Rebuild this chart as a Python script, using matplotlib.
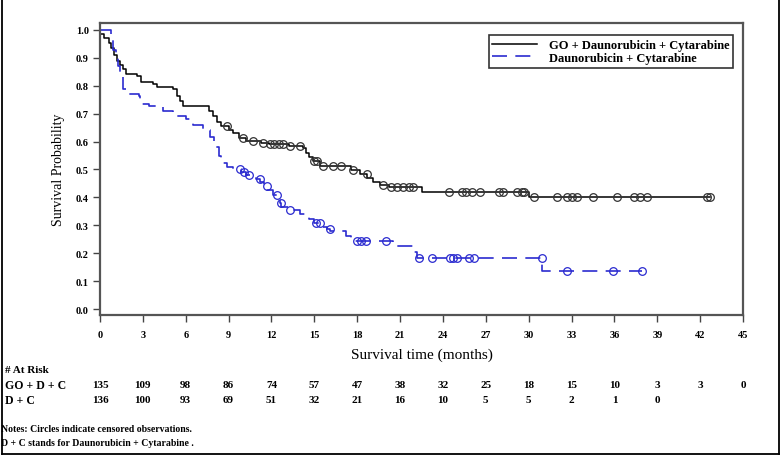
import matplotlib
matplotlib.use("Agg")
import matplotlib.pyplot as plt
from matplotlib.lines import Line2D
import numpy as np

plt.rcParams['font.family'] = ['Liberation Serif', 'DejaVu Serif']
plt.rcParams['font.weight'] = 'bold'

# GO + Daunorubicin + Cytarabine: event times (months) and survival after each drop
go_start = 0.985
go_times = [0.3, 0.6, 0.8, 1.0, 1.2, 1.4, 1.6, 1.8, 2.6, 2.9, 3.7, 4.0, 5.1, 5.4,
            5.6, 5.8, 7.6, 7.9, 8.2, 8.5, 9.0, 9.3, 9.7, 10.2, 11.3, 11.8, 13.2,
            14.2, 14.4, 14.6, 14.9, 15.4, 17.6, 18.2, 18.7, 19.1, 19.6, 20.2,
            22.5, 30.0]
go_surv = [0.97, 0.955, 0.935, 0.91, 0.89, 0.875, 0.86, 0.842, 0.835, 0.815,
           0.808, 0.795, 0.788, 0.765, 0.745, 0.727, 0.71, 0.69, 0.672, 0.655,
           0.643, 0.632, 0.612, 0.603, 0.596, 0.59, 0.584, 0.578, 0.56, 0.545,
           0.53, 0.513, 0.497, 0.484, 0.468, 0.455, 0.443, 0.437, 0.42, 0.40]
go_censor = [8.9, 10.0, 10.7, 11.4, 11.9, 12.2, 12.5, 12.8, 13.3, 14.0, 15.0,
             15.2, 15.6, 16.3, 16.9, 17.7, 18.7, 19.8, 20.4, 20.8, 21.2, 21.6,
             21.9, 24.4, 25.3, 25.6, 26.0, 26.6, 27.9, 28.2, 29.2, 29.5, 29.7,
             30.4, 32.0, 32.7, 33.0, 33.4, 34.5, 36.2, 37.4, 37.8, 38.3, 42.5, 42.7]
go_end = 42.7

# Daunorubicin + Cytarabine
dc_start = 1.0
dc_times = [0.75, 0.9, 1.1, 1.25, 1.4, 1.6, 1.9, 2.7, 2.8, 3.4, 4.4, 5.1, 6.0,
            6.5, 7.2, 7.7, 8.0, 8.3, 8.5, 8.9, 9.3, 9.9, 10.2, 10.5, 10.9, 11.2,
            11.5, 11.7, 12.1, 12.4, 12.6, 12.7, 13.2, 14.0, 14.6, 15.0, 15.5,
            15.9, 16.1, 17.2, 17.6, 20.5, 21.9, 22.2, 30.9]
dc_surv = [0.965, 0.93, 0.9, 0.87, 0.835, 0.79, 0.77, 0.765, 0.735, 0.728, 0.71,
           0.69, 0.68, 0.66, 0.64, 0.615, 0.58, 0.55, 0.525, 0.508, 0.5, 0.49,
           0.482, 0.474, 0.465, 0.455, 0.44, 0.425, 0.41, 0.397, 0.38, 0.365,
           0.356, 0.34, 0.322, 0.31, 0.295, 0.285, 0.278, 0.263, 0.245, 0.227,
           0.204, 0.183, 0.137]
dc_censor = [9.8, 10.1, 10.4, 11.2, 11.7, 12.4, 12.7, 13.3, 15.1, 15.4, 16.1,
             18.0, 18.3, 18.6, 20.0, 22.3, 23.2, 24.5, 24.7, 25.0, 25.8, 26.2,
             30.9, 32.7, 35.9, 37.9]
dc_end = 37.9

risk_times = list(range(0, 46, 3))
go_risk = [135, 109, 98, 86, 74, 57, 47, 38, 32, 25, 18, 15, 10, 3, 3, 0]
dc_risk = [136, 100, 93, 69, 51, 32, 21, 16, 10, 5, 5, 2, 1, 0]

blue = '#2b2bd0'

fig = plt.figure(figsize=(7.83, 4.6), dpi=100)
ax = fig.add_axes([100/783, 1 - 316/460, 643/783, 292/460])


def km(start, times, surv, end):
    x = np.r_[0, times, end]
    y = np.r_[start, surv, surv[-1]]
    return x, y


def censor_y(start, times, surv, ct):
    vals = np.r_[start, surv]
    idx = np.searchsorted(times, ct, side='left')
    return vals[idx]


x, y = km(go_start, go_times, go_surv, go_end)
ax.step(x, y, where='post', color='black', lw=1.1,
        label='GO + Daunorubicin + Cytarabine')
ax.plot(go_censor, censor_y(go_start, go_times, go_surv, go_censor), 'o',
        mfc='none', mec='#333333', ms=5.5, mew=0.9)

x, y = km(dc_start, dc_times, dc_surv, dc_end)
ax.step(x, y, where='post', color=blue, lw=1.2, dashes=(9, 5),
        label='Daunorubicin + Cytarabine')
ax.plot(dc_censor, censor_y(dc_start, dc_times, dc_surv, dc_censor), 'o',
        mfc='none', mec=blue, ms=5.5, mew=0.9)

ax.set_xlim(0, 45)
ax.set_ylim(-6/279, 1 + 7/279)
ax.set_xticks(risk_times)
ax.set_xticklabels([str(t) for t in risk_times], fontsize=7.5)
ax.set_yticks(np.arange(0, 1.01, 0.1))
ax.set_yticklabels([f"{v:.1f}" for v in np.arange(0, 1.01, 0.1)], fontsize=7.5)
ax.tick_params(direction='out', length=5, width=1, color='#444444', pad=3)
ax.tick_params(axis='x', pad=6)
for sp in ax.spines.values():
    sp.set_color('#555555')
    sp.set_linewidth(1.6)

ax.set_ylabel('Survival Probability', fontsize=10, labelpad=8)
ax.set_xlabel('Survival time (months)', fontsize=11, labelpad=6)

leg = ax.legend(loc='upper right', bbox_to_anchor=(0.994, 0.979), fontsize=9,
                frameon=True, fancybox=False, handlelength=3.6,
                borderpad=0.3, labelspacing=0.05, handletextpad=0.9)
leg.get_frame().set_edgecolor('black')
leg.get_frame().set_linewidth(1.2)

# number at risk table
def fx(t):
    return (100 + t * 643 / 45) / 783


fig.text(5/783, 1 - 371/460, '# At Risk', fontsize=8, va='center', ha='left')
fig.text(5/783, 1 - 386/460, 'GO + D + C', fontsize=8.5, va='center', ha='left')
fig.text(5/783, 1 - 401/460, 'D + C', fontsize=8.5, va='center', ha='left')
for t, n in zip(risk_times, go_risk):
    fig.text(fx(t), 1 - 386/460, str(n), fontsize=8, va='center', ha='center')
for t, n in zip(risk_times, dc_risk):
    fig.text(fx(t), 1 - 401/460, str(n), fontsize=8, va='center', ha='center')

fig.text(1/783, 1 - 430/460, 'Notes: Circles indicate censored observations.',
         fontsize=7, va='center', ha='left')
fig.text(1/783, 1 - 444/460, 'D + C stands for Daunorubicin + Cytarabine .',
         fontsize=7, va='center', ha='left')

# outer frame (left, right, bottom)
yb = 1 - 455/460
for xs, ys in [([2/783, 2/783], [yb, 1]),
               ([779/783, 779/783], [yb, 1]),
               ([2/783, 779/783], [yb, yb])]:
    fig.add_artist(Line2D(xs, ys, color='black', lw=1.3))

fig.savefig('out.png', dpi=100)
